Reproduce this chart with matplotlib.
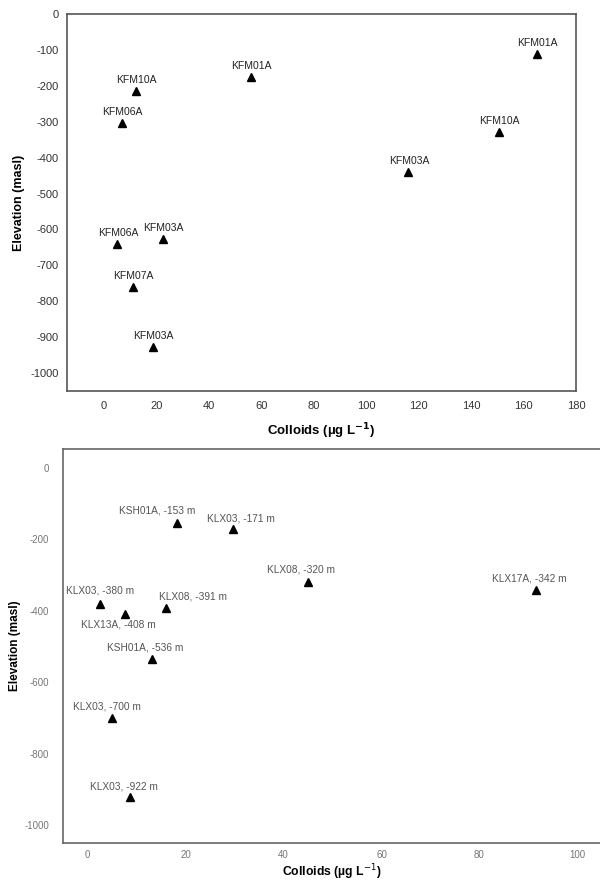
import matplotlib
matplotlib.use("Agg")
import matplotlib.pyplot as plt

plt.rcParams['font.family'] = ['Liberation Sans', 'DejaVu Sans']
plt.rcParams['axes.unicode_minus'] = False

# Forsmark boreholes (upper panel)
fm_names = ['KFM10A', 'KFM06A', 'KFM01A', 'KFM01A', 'KFM10A', 'KFM03A',
            'KFM06A', 'KFM03A', 'KFM07A', 'KFM03A']
fm_colloids = [12.2, 6.8, 56.0, 165.0, 150.5, 116.0, 5.0, 22.5, 11.0, 18.6]
fm_elevation = [-215, -304, -176, -111, -329, -441, -641, -627, -760, -928]

# Laxemar / Simpevarp boreholes (lower panel)
lx_names = ['KSH01A, -153 m', 'KLX03, -171 m', 'KLX08, -320 m', 'KLX17A, -342 m',
            'KLX03, -380 m', 'KLX13A, -408 m', 'KLX08, -391 m', 'KSH01A, -536 m',
            'KLX03, -700 m', 'KLX03, -922 m']
lx_colloids = [18.3, 29.7, 45.0, 91.5, 2.6, 7.6, 16.0, 13.2, 5.0, 8.6]
lx_elevation = [-153, -171, -320, -342, -380, -408, -391, -536, -700, -922]
lx_offsets = [(-20, 12), (8, 11), (-7, 13), (-7, 12), (0, 13),
              (-6, -11), (27, 11), (-7, 12), (-5, 11), (-6, 11)]

fig = plt.figure(figsize=(6, 8.82), dpi=100)

# upper panel
ax1 = fig.add_axes([0.1117, 0.5567, 0.8483, 0.4274])
ax1.plot(fm_colloids, fm_elevation, linestyle='none', marker='^',
         color='black', markersize=6)
for name, x, y in zip(fm_names, fm_colloids, fm_elevation):
    ax1.annotate(name, (x, y), xytext=(1, 11), textcoords='offset pixels',
                 ha='center', va='center', fontsize=7.5, color='#222222')
ax1.set_xlim(-14, 180)
ax1.set_ylim(-1050, 0)
ax1.set_xticks(range(0, 181, 20))
ax1.set_yticks(range(-1000, 1, 100))
ax1.tick_params(length=0, labelsize=8, labelcolor='#333333')
ax1.tick_params(axis='x', pad=7)
ax1.tick_params(axis='y', pad=6)
for sp in ax1.spines.values():
    sp.set_color('#555555')
    sp.set_linewidth(1.2)
ax1.set_xlabel('Colloids (µg L$^{\\mathbf{-1}}$)', fontsize=9.5,
               fontweight='bold')
ax1.set_ylabel('Elevation (masl)', fontsize=9, fontweight='bold')
ax1.xaxis.set_label_coords(0.5, -0.08)
ax1.yaxis.set_label_coords(-0.0825, 0.5)

# lower panel
ax2 = fig.add_axes([0.105, 0.0442, 0.895, 0.4467])
ax2.plot(lx_colloids, lx_elevation, linestyle='none', marker='^',
         color='black', markersize=6)
for name, x, y, off in zip(lx_names, lx_colloids, lx_elevation, lx_offsets):
    ax2.annotate(name, (x, y), xytext=off, textcoords='offset pixels',
                 ha='center', va='center', fontsize=7.3, color='#555555')
ax2.set_xlim(-5, 104.6)
ax2.set_ylim(-1050, 53)
ax2.set_xticks(range(0, 101, 20))
ax2.set_yticks(range(-1000, 1, 200))
ax2.tick_params(length=0, labelsize=7, labelcolor='#777777')
ax2.tick_params(axis='x', pad=5)
ax2.tick_params(axis='y', pad=10)
ax2.spines['right'].set_visible(False)
for sp in ['top', 'left', 'bottom']:
    ax2.spines[sp].set_color('#666666')
    ax2.spines[sp].set_linewidth(1.2)
ax2.set_xlabel('Colloids (µg L$^{-1}$)', fontsize=8.8, fontweight='bold')
ax2.set_ylabel('Elevation (masl)', fontsize=8.5, fontweight='bold')
ax2.xaxis.set_label_coords(0.5, -0.05)
ax2.yaxis.set_label_coords(-0.078, 0.5)

fig.savefig('out.png', dpi=100)
